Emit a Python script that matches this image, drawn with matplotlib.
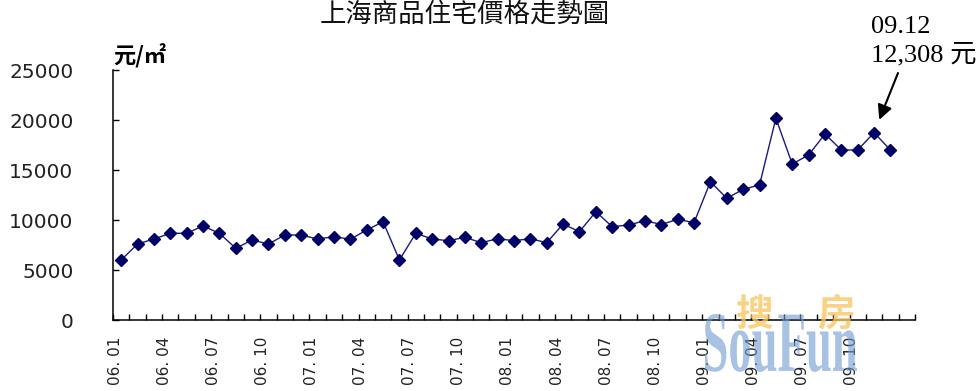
import matplotlib.pyplot as plt
from matplotlib.textpath import TextPath
from matplotlib.patches import PathPatch
from matplotlib.font_manager import FontProperties
from matplotlib.transforms import Affine2D, ScaledTranslation

# Average monthly price of Shanghai commercial housing, 2006.01 - 2009.12 (yuan / m2)
prices_2006 = [6000, 7600, 8100, 8670, 8670, 9400, 8670, 7170, 8000, 7600, 8500, 8500]
prices_2007 = [8100, 8330, 8070, 9000, 9830, 6000, 8670, 8100, 7930, 8270, 7730, 8130]
prices_2008 = [7930, 8130, 7730, 9600, 8830, 10830, 9330, 9500, 9930, 9550, 10070, 9730]
prices_2009 = [13830, 12170, 13070, 13500, 20170, 15600, 16500, 18600, 17000, 17000, 18730, 17000]
prices = prices_2006 + prices_2007 + prices_2008 + prices_2009

tick_labels = ['06. 01', '06. 04', '06. 07', '06. 10',
               '07. 01', '07. 04', '07. 07', '07. 10',
               '08. 01', '08. 04', '08. 07', '08. 10',
               '09. 01', '09. 04', '09. 07', '09. 10']
y_ticks = [0, 5000, 10000, 15000, 20000, 25000]

note_month = '09.12'
note_price = '12,308'
note_index = 46

W, H = 978, 391
fig = plt.figure(figsize=(W / 100, H / 100), dpi=100)
ax = fig.add_axes([113 / W, 71 / H, 802 / W, 250 / H])

x = list(range(len(prices)))
ax.plot(x, prices, color='#1a1a80', lw=1.0, marker='D', ms=6,
        mfc='#000066', mec='#000066', zorder=3)

ax.set_xlim(-0.5, len(prices) + 0.5)
ax.set_ylim(0, 25000)

for side in ('top', 'right'):
    ax.spines[side].set_visible(False)
for side in ('left', 'bottom'):
    ax.spines[side].set_linewidth(1.1)
    ax.spines[side].set_color('black')

# category ticks sit between the months, labels every quarter
ax.set_xticks([i - 0.5 for i in range(len(prices) + 2)], minor=True)
ax.set_xticks(range(0, len(prices), 3))
ax.set_xticklabels(tick_labels, rotation=90, va='top', ha='center',
                   family='DejaVu Sans', fontsize=11, color='#222222')
ax.tick_params(axis='x', which='minor', direction='in', length=4, width=1)
ax.tick_params(axis='x', which='major', length=0, pad=12)
shift = ScaledTranslation(-6 / 100, 0, fig.dpi_scale_trans)
for lab in ax.get_xticklabels():
    lab.set_transform(lab.get_transform() + shift)

ax.set_yticks(y_ticks)
ax.set_yticklabels([str(v) for v in y_ticks], fontsize=14.5, color='#222222')
ax.tick_params(axis='y', direction='in', length=4, width=1, pad=28.5)

# title, unit label
fig.text(465 / W, 1 - 1 / H, '上海商品住宅價格走勢圖', ha='center', va='top',
         fontsize=19, family=['Noto Sans CJK TC', 'DejaVu Sans'], color='#111111')
fig.text(113 / W, 1 - 64 / H, '元/㎡', ha='left', va='baseline', fontsize=16,
         weight='bold', family=['Noto Sans CJK SC', 'DejaVu Sans'])

# callout with arrow
serif = ['Liberation Serif', 'Noto Sans CJK SC']
fig.text(871 / W, 1 - 33 / H, note_month, fontsize=19, family=serif, va='baseline')
fig.text(871 / W, 1 - 61 / H, note_price + ' 元', fontsize=19, family=serif, va='baseline')
ax.annotate('', xy=(note_index, prices[note_index]), xycoords='data',
            xytext=(898, H - 73), textcoords='figure pixels',
            arrowprops=dict(arrowstyle='-|>', color='black', lw=1.5,
                            mutation_scale=22, shrinkA=0, shrinkB=10))

# watermark logo
tp = TextPath((0, 0), 'SouFun', size=1,
              prop=FontProperties(family='Liberation Serif', weight='bold'))
bb = tp.get_extents()
logo_tr = (Affine2D().translate(-bb.x0, -bb.y0)
           .scale(152 / bb.width, 58 / bb.height)
           .translate(705, H - 372).scale(1 / 100)
           + fig.dpi_scale_trans)
fig.add_artist(PathPatch(tp, transform=logo_tr, fc='#6f9ad3', ec='none', alpha=0.6))
for ch, cx in (('搜', 754), ('房', 836)):
    fig.text(cx / W, 1 - 314 / H, ch, ha='center', va='center', fontsize=27,
             weight='bold', family=['Noto Sans CJK SC'], color='#f9c45c', alpha=0.75)

fig.savefig('out.png', dpi=100)
